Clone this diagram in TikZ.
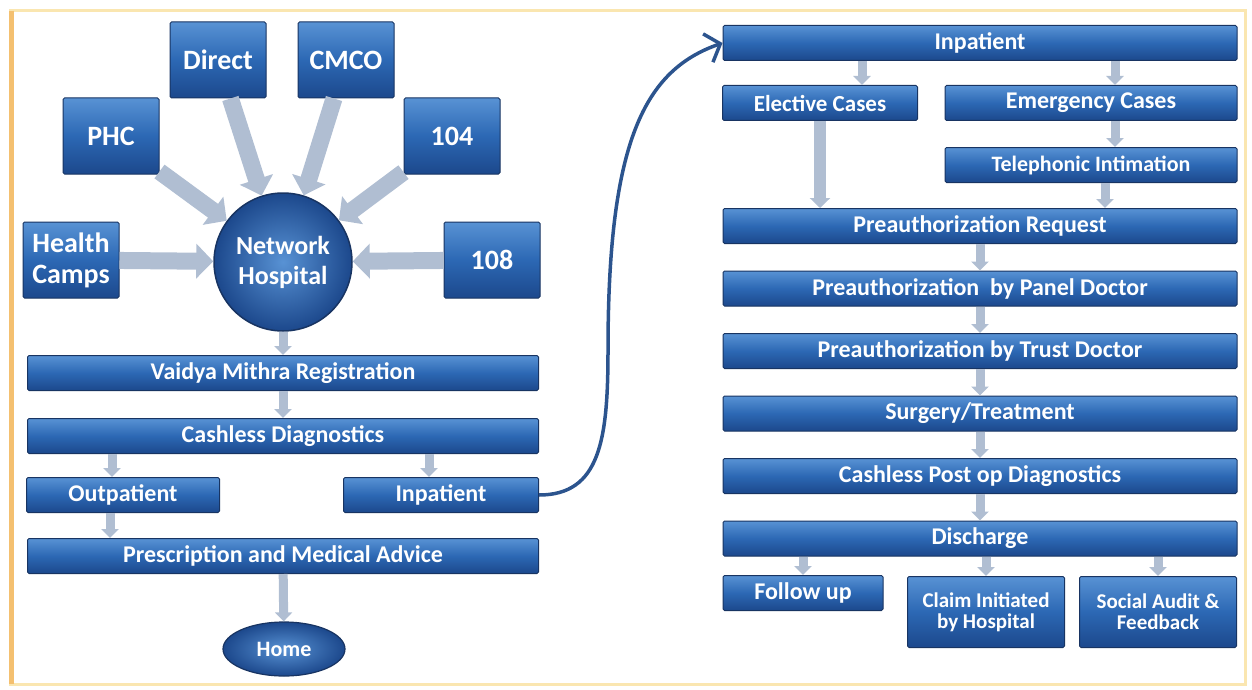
\documentclass[tikz,border=0pt]{standalone}
\usepackage{fontspec}
\setmainfont{Carlito}
\usepackage{tikz}
\usetikzlibrary{arrows.meta, shapes.geometric, positioning, calc}
\definecolor{boxtop}{RGB}{88,146,212}
\definecolor{boxmid}{RGB}{44,104,180}
\definecolor{boxbot}{RGB}{28,72,140}
\definecolor{boxline}{RGB}{24,52,98}
\definecolor{arrowfill}{RGB}{176,190,210}
\definecolor{curvecol}{RGB}{44,84,142}
\definecolor{framecol}{RGB}{250,230,176}
\definecolor{frameleft}{RGB}{244,192,112}

\tikzset{
  stepbox/.style={rectangle, rounded corners=1.5pt, draw=boxline, line width=1pt,
    top color=boxtop, bottom color=boxbot, middle color=boxmid, text=white,
    font=\bfseries\fontsize{24}{26}\selectfont, minimum height=35pt, inner sep=2pt, align=center},
  smallbox/.style={stepbox, font=\bfseries\fontsize{21}{21}\selectfont},
  widebox/.style={stepbox, minimum width=512pt},
  srcbox/.style={stepbox, minimum width=96pt, minimum height=76pt, font=\bfseries\fontsize{28}{31}\selectfont},
  bigarrow/.style={draw, color=arrowfill, line width=17pt, -{Triangle[length=17pt,width=34pt]}},
  smallarrow/.style={draw, color=arrowfill, line width=9pt, -{Triangle[length=9pt,width=17pt]}},
  longarrow/.style={smallarrow, line width=12pt, -{Triangle[length=10pt,width=20pt]}},
  curvearrow/.style={draw=curvecol, line width=3.5pt, -{Straight Barb[length=13pt,width=30pt]}},
}

\begin{document}
\begin{tikzpicture}[x=1pt, y=-1pt]
  \useasboundingbox (0,0) rectangle (1252,690);
  \draw[framecol, line width=3pt] (10,11) rectangle (1245,684);
  \draw[frameleft, line width=5pt] (11,11) -- (11,684);

  \node[srcbox] (direct) at (218,60) {Direct};
  \node[srcbox] (cmco) at (346,60) {CMCO};
  \node[srcbox] (phc) at (111,136) {PHC};
  \node[srcbox] (t104) at (452,136) {104};
  \node[srcbox] (camps) at (71,260) {Health\\Camps};
  \node[srcbox] (t108) at (492,260) {108};
  \node[circle, draw=boxline, line width=1.5pt, inner color=boxtop, outer color=boxbot,
    minimum size=138pt, text=white, align=center,
    font=\bfseries\fontsize{26}{30}\selectfont] (hosp) at (283,262) {Network\\Hospital};

  \path[bigarrow] (direct) edge (hosp) (cmco) edge (hosp) (phc) edge (hosp)
    (t104) edge (hosp) (camps) edge (hosp) (t108) edge (hosp);

  \node[stepbox, minimum width=511pt] (vaidya) at (283,373) {Vaidya Mithra Registration};
  \node[stepbox, minimum width=511pt, below=27pt of vaidya] (cashless) {Cashless Diagnostics};
  \node[stepbox, minimum width=193pt] (outp) at (123,495) {Outpatient};
  \node[stepbox, minimum width=195pt] (inL) at (441,495) {Inpatient};
  \node[stepbox, minimum width=511pt] (presc) at (283,556) {Prescription and Medical Advice};
  \node[ellipse, draw=boxline, line width=1.2pt, inner color=boxtop, outer color=boxbot,
    minimum width=122pt, minimum height=54pt, text=white,
    font=\bfseries\fontsize{22}{24}\selectfont] (home) at (284,649) {Home};

  \path[smallarrow] (hosp) edge (vaidya) (vaidya) edge (cashless) (presc) edge (home);
  \draw[smallarrow] ([xshift=-11pt]outp.north |- cashless.south) -- ([xshift=-11pt]outp.north);
  \draw[smallarrow] ([xshift=-12pt]inL.north |- cashless.south) -- ([xshift=-12pt]inL.north);
  \draw[smallarrow] ([xshift=-13pt]outp.south) -- ([xshift=-13pt]outp.south |- presc.north);

  \node[widebox, minimum width=514pt] (inR) at (980,43) {Inpatient};
  \node[stepbox, minimum width=195pt, font=\bfseries\fontsize{23}{24}\selectfont] (elective) at (820,103) {Elective Cases};
  \node[stepbox, minimum width=292pt] (emerg) at (1091,103) {Emergency Cases};
  \node[smallbox, minimum width=292pt, font=\bfseries\fontsize{22}{22}\selectfont] (tele) at (1091,165) {Telephonic Intimation};
  \node[widebox, minimum width=514pt] (prereq) at (980,226) {Preauthorization Request};
  \node[widebox, minimum width=514pt, below=26.5pt of prereq] (panel) {Preauthorization\ \ by Panel Doctor};
  \node[widebox, minimum width=514pt, below=26.5pt of panel] (trust) {Preauthorization by Trust Doctor};
  \node[widebox, minimum width=514pt, below=26.5pt of trust] (surgery) {Surgery/Treatment};
  \node[widebox, minimum width=514pt, below=26.5pt of surgery] (postop) {Cashless Post op Diagnostics};
  \node[widebox, minimum width=514pt, below=26.5pt of postop] (discharge) {Discharge};
  \node[stepbox, minimum width=160pt, font=\bfseries\fontsize{24}{24}\selectfont] (follow) at (803,593) {Follow up};
  \node[smallbox, minimum width=157pt, minimum height=71pt] (claim) at (986,612) {Claim Initiated\\by Hospital};
  \node[smallbox, minimum width=157pt, minimum height=71pt] (social) at (1158,612) {Social Audit \&\\Feedback};

  \draw[smallarrow] ([xshift=42pt]elective.north |- inR.south) -- ([xshift=42pt]elective.north);
  \draw[smallarrow] ([xshift=24pt]emerg.north |- inR.south) -- ([xshift=24pt]emerg.north);
  \draw[smallarrow] ([xshift=24pt]emerg.south) -- ([xshift=24pt]tele.north);
  \draw[smallarrow] ([xshift=14pt]tele.south) -- ([xshift=14pt]tele.south |- prereq.north);
  \draw[longarrow] (elective) -- (elective.south |- prereq.north);
  \path[smallarrow] (prereq) edge (panel) (panel) edge (trust) (trust) edge (surgery)
    (surgery) edge (postop) (postop) edge (discharge);
  \draw[smallarrow] (discharge.south -| follow.north) -- (follow.north);
  \draw[smallarrow] (discharge.south -| claim.north) -- (claim.north);
  \draw[smallarrow] (discharge.south -| social.north) -- (social.north);

  \draw[curvearrow] (inL.east) .. controls (600,495) and (608,440) .. (608,350)
    .. controls (608,140) and (645,70) .. (inR.west);
\end{tikzpicture}
\end{document}
